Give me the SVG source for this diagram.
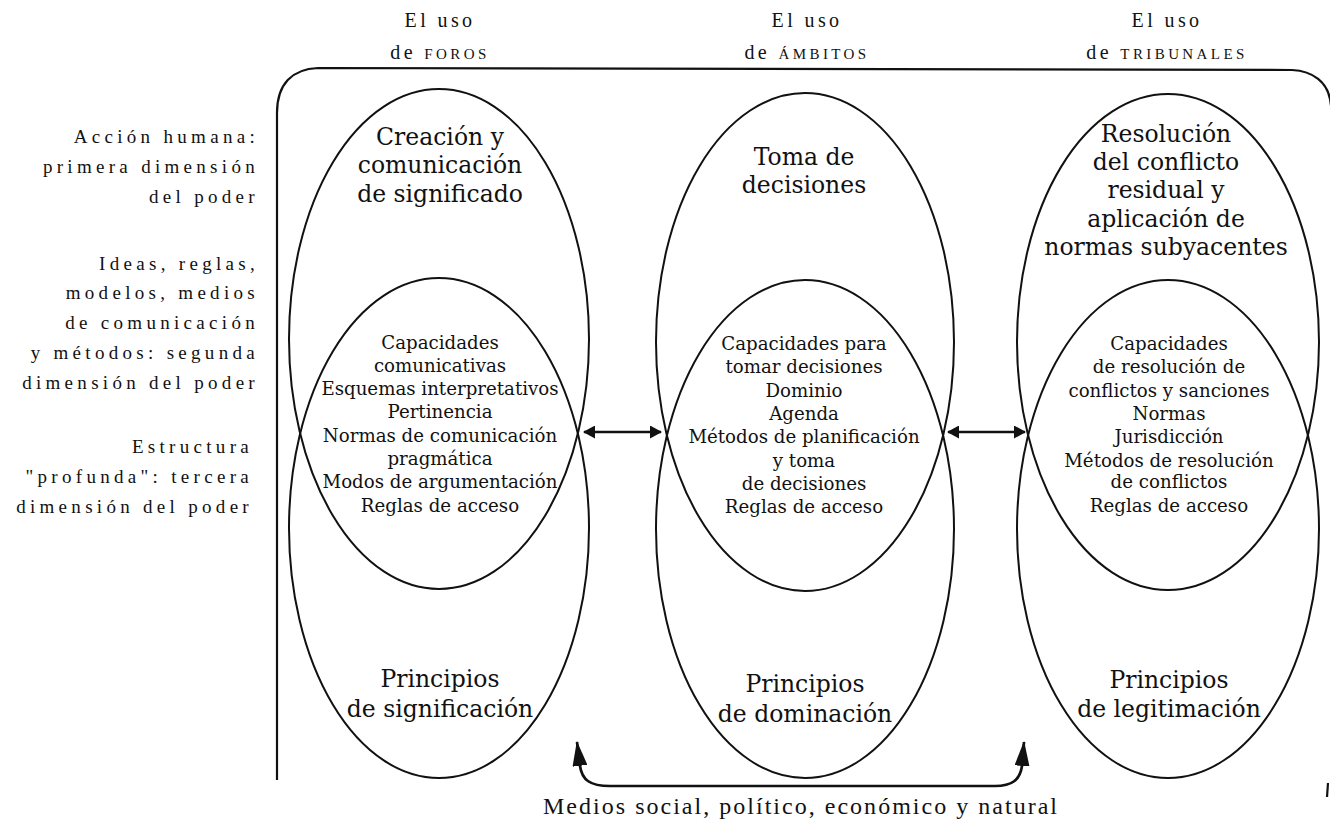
<svg xmlns="http://www.w3.org/2000/svg" width="1330" height="823" viewBox="0 0 1330 823">
  <style>
    .bg { fill: #ffffff; }
    .line { fill: none; stroke: #111; stroke-width: 2; }
    .frame { fill: none; stroke: #111; stroke-width: 2.2; }
    .conn { fill: none; stroke: #111; stroke-width: 2.7; }
    .head { font-family: "Liberation Serif", serif; font-size: 20px; fill: #111; text-anchor: middle; letter-spacing: 3.4px; }
    .sc { font-size: 15px; }
    .side { font-family: "Liberation Serif", serif; font-size: 19px; fill: #111; text-anchor: end; letter-spacing: 4.3px; }
    .title { font-family: "DejaVu Serif", serif; font-size: 23.5px; fill: #111; text-anchor: middle; }
    .list { font-family: "DejaVu Serif", serif; font-size: 18.2px; fill: #111; text-anchor: middle; }
    .foot { font-family: "Liberation Serif", serif; font-size: 24px; fill: #111; text-anchor: middle; }
  </style>
  <defs>
    <marker id="tip" viewBox="0 0 12 13" refX="11" refY="6.5" markerWidth="12" markerHeight="13" markerUnits="userSpaceOnUse" orient="auto-start-reverse">
      <path d="M0,0 L12,6.5 L0,13 Z" fill="#111"/>
    </marker>
    <marker id="tipTall" viewBox="0 0 25 15" refX="24" refY="7.5" markerWidth="25" markerHeight="15" markerUnits="userSpaceOnUse" orient="auto-start-reverse">
      <path d="M0,0 L25,7.5 L0,15 Z" fill="#111"/>
    </marker>
  </defs>

  <rect class="bg" x="0" y="0" width="1330" height="823"/>

  <!-- column headings -->
  <g id="headings">
    <text class="head" x="440" y="27">El uso</text>
    <text class="head" x="440" y="59">de <tspan class="sc">FOROS</tspan></text>
    <text class="head" x="807" y="27">El uso</text>
    <text class="head" x="807" y="59">de <tspan class="sc">ÁMBITOS</tspan></text>
    <text class="head" x="1167" y="27">El uso</text>
    <text class="head" x="1167" y="59">de <tspan class="sc">TRIBUNALES</tspan></text>
  </g>

  <!-- row labels on the left -->
  <g id="dimension-1">
    <text class="side" x="259" y="143">Acción humana:</text>
    <text class="side" x="259" y="173">primera dimensión</text>
    <text class="side" x="259" y="203">del poder</text>
  </g>
  <g id="dimension-2">
    <text class="side" x="259" y="270">Ideas, reglas,</text>
    <text class="side" x="259" y="299">modelos, medios</text>
    <text class="side" x="259" y="329">de comunicación</text>
    <text class="side" x="259" y="359">y métodos: segunda</text>
    <text class="side" x="259" y="389">dimensión del poder</text>
  </g>
  <g id="dimension-3">
    <text class="side" x="253" y="453">Estructura</text>
    <text class="side" x="253" y="483">"profunda": tercera</text>
    <text class="side" x="253" y="513">dimensión del poder</text>
  </g>

  <!-- open frame around the three columns -->
  <g id="frame">
    <path class="frame" d="M277,780 L277,113 C277,84 292,69 318,68 L1292,70 C1314,71 1327,83 1330,99 L1332,112 L1332,780"/>
    <path class="frame" d="M1328,783 L1327,797"/>
  </g>

  <!-- column: forums -->
  <g id="foros">
    <ellipse class="line" cx="439" cy="339" rx="150" ry="250"/>
    <ellipse class="line" cx="439" cy="528" rx="150" ry="250"/>
    <text class="title" x="440" y="145">Creación y</text>
    <text class="title" x="440" y="173">comunicación</text>
    <text class="title" x="440" y="202">de significado</text>
    <text class="list" x="440" y="349">Capacidades</text>
    <text class="list" x="440" y="372">comunicativas</text>
    <text class="list" x="440" y="395">Esquemas interpretativos</text>
    <text class="list" x="440" y="418">Pertinencia</text>
    <text class="list" x="440" y="442">Normas de comunicación</text>
    <text class="list" x="440" y="465">pragmática</text>
    <text class="list" x="440" y="488">Modos de argumentación</text>
    <text class="list" x="440" y="512">Reglas de acceso</text>
    <text class="title" x="440" y="687">Principios</text>
    <text class="title" x="440" y="717">de significación</text>
  </g>

  <!-- column: arenas -->
  <g id="ambitos">
    <ellipse class="line" cx="805" cy="342" rx="149" ry="249"/>
    <ellipse class="line" cx="805" cy="529" rx="149" ry="249"/>
    <text class="title" x="804" y="165">Toma de</text>
    <text class="title" x="804" y="193">decisiones</text>
    <text class="list" x="804" y="350">Capacidades para</text>
    <text class="list" x="804" y="373">tomar decisiones</text>
    <text class="list" x="804" y="397">Dominio</text>
    <text class="list" x="804" y="420">Agenda</text>
    <text class="list" x="804" y="443">Métodos de planificación</text>
    <text class="list" x="804" y="467">y toma</text>
    <text class="list" x="804" y="490">de decisiones</text>
    <text class="list" x="804" y="513">Reglas de acceso</text>
    <text class="title" x="805" y="692">Principios</text>
    <text class="title" x="805" y="722">de dominación</text>
  </g>

  <!-- column: courts -->
  <g id="tribunales">
    <ellipse class="line" cx="1168" cy="342" rx="151" ry="248"/>
    <ellipse class="line" cx="1168" cy="529" rx="151" ry="249"/>
    <text class="title" x="1166" y="142">Resolución</text>
    <text class="title" x="1166" y="170">del conflicto</text>
    <text class="title" x="1166" y="198">residual y</text>
    <text class="title" x="1166" y="227">aplicación de</text>
    <text class="title" x="1166" y="255">normas subyacentes</text>
    <text class="list" x="1169" y="350">Capacidades</text>
    <text class="list" x="1169" y="373">de resolución de</text>
    <text class="list" x="1169" y="397">conflictos y sanciones</text>
    <text class="list" x="1169" y="420">Normas</text>
    <text class="list" x="1169" y="443">Jurisdicción</text>
    <text class="list" x="1169" y="467">Métodos de resolución</text>
    <text class="list" x="1169" y="488">de conflictos</text>
    <text class="list" x="1169" y="512">Reglas de acceso</text>
    <text class="title" x="1169" y="688">Principios</text>
    <text class="title" x="1169" y="717">de legitimación</text>
  </g>

  <!-- connectors between columns -->
  <g id="connectors">
    <path class="conn" d="M584,432 L661,432" marker-start="url(#tip)" marker-end="url(#tip)"/>
    <path class="conn" d="M948,432 L1025,432" marker-start="url(#tip)" marker-end="url(#tip)"/>
    <path class="conn" d="M577,742 L580,766 C582,780 590,786 610,786 L995,786 C1012,786 1020,780 1022,766 L1024,742" marker-start="url(#tipTall)" marker-end="url(#tipTall)"/>
  </g>

  <!-- caption of the lower connector -->
  <g id="medios">
    <text class="foot" x="800" y="814" textLength="514" lengthAdjust="spacing">Medios social, político, económico y natural</text>
  </g>
</svg>
